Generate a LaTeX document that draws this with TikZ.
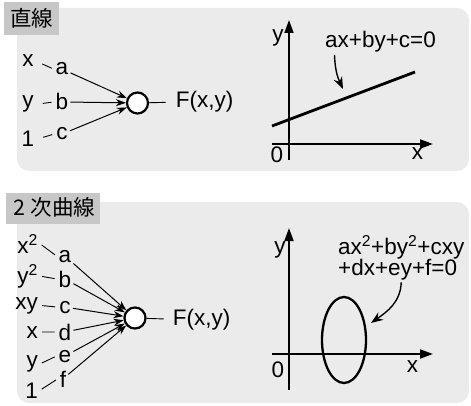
\documentclass[tikz,border=0pt]{standalone}
\usepackage{fontspec}
\setmainfont{Liberation Sans}
\newfontfamily\cjk{Noto Sans CJK JP}
\usetikzlibrary{arrows.meta}
\tikzset{
  panel/.style={fill=black!8,rounded corners=12pt},
  tab/.style={fill=black!22},
  unit/.style={circle,draw,line width=2.2pt,fill=white,minimum size=21pt,inner sep=0pt},
  tick/.style={line width=0.9pt},
  inarrow/.style={line width=1pt,-{Stealth[length=10pt,width=7pt]}},
  axis/.style={line width=1.8pt,-{Triangle[length=13pt,width=9pt]}},
  callout/.style={line width=1.4pt,-{Stealth[length=12pt,width=9pt]}},
}
\begin{document}
\begin{tikzpicture}[x=1pt,y=-1pt,inner sep=2pt,font=\fontsize{22.5}{21}\selectfont]
  \useasboundingbox (0,0) rectangle (471,406);
  % straight line
  \fill[panel] (17,8) rectangle (469,171);
  \fill[tab] (4,2) rectangle (59,35);
  \node[font=\cjk\fontsize{21.5}{22}\selectfont] (title1) at (31.5,18.5) {直線};
  \node[anchor=base] (in1x) at (28,67) {x};
  \node[anchor=base] (in1y) at (28,108) {y};
  \node[anchor=base] (in1o) at (28,147) {1};
  \node[anchor=base] (w1a) at (62,75) {a};
  \node[anchor=base] (w1b) at (62,110) {b};
  \node[anchor=base] (w1c) at (62,140) {c};
  \node[unit] (n1) at (137.5,103) {};
  \node[anchor=base] (f1) at (204.5,108) {F(x,y)};
  \foreach \i/\w in {x/a,y/b,o/c}{
    \draw[tick,shorten <=7pt,shorten >=2pt] (in1\i.east) -- (w1\w.west);
    \draw[inarrow] (w1\w) -- (n1);
  }
  \draw[line width=0.9pt,shorten >=8pt] (n1) -- (f1.west);
  \draw[axis] (289,160) -- (289,20);
  \draw[axis] (272,144) -- (433,144);
  \node (ax1y) at (278,38) {y};
  \node (ax1o) at (277,154.5) {0};
  \node (ax1x) at (417.5,153.5) {x};
  \draw[line width=2.8pt] (272,126) -- (415,72);
  \node[anchor=base] (eq1) at (380.5,48) {ax+by+c=0};
  \coordinate (p1) at (343,89);
  \draw[callout] ([xshift=-46pt]eq1.south) to[out=-88,in=115] (p1);
  % quadratic curve
  \fill[panel] (17,202) rectangle (469,403);
  \fill[tab] (6,193) rectangle (100,224);
  \node[font=\cjk\fontsize{21.5}{22}\selectfont] (title2) at (54.5,207.5) {2 次曲線};
  \node[anchor=base east] (in2a) at (40,253) {x\textsuperscript{2}};
  \node[anchor=base east] (in2b) at (40,283) {y\textsuperscript{2}};
  \node[anchor=base east] (in2c) at (40,309) {xy};
  \node[anchor=base east] (in2d) at (40,338) {x};
  \node[anchor=base east] (in2e) at (40,367.5) {y};
  \node[anchor=base east] (in2f) at (40,398) {1};
  \node[anchor=base] (w2a) at (65,262) {a};
  \node[anchor=base] (w2b) at (65,287) {b};
  \node[anchor=base] (w2c) at (65,313) {c};
  \node[anchor=base] (w2d) at (65,340) {d};
  \node[anchor=base] (w2e) at (65,362) {e};
  \node[anchor=base] (w2f) at (63,387) {f};
  \node[unit] (n2) at (135,318) {};
  \node[anchor=base] (f2) at (201.5,325) {F(x,y)};
  \foreach \w in {a,b,c,d,e,f}{
    \draw[tick,shorten <=2pt,shorten >=2pt] (in2\w.east) -- (w2\w.west);
    \draw[inarrow] (w2\w) -- (n2);
  }
  \draw[line width=0.9pt,shorten >=7pt] (n2) -- (f2.west);
  \draw[axis] (289,390) -- (289,228);
  \draw[axis] (272,354) -- (433,354);
  \node (ax2y) at (280,250) {y};
  \node (ax2o) at (278,370) {0};
  \node (ax2x) at (412.5,367) {x};
  \draw[line width=2.3pt] (344,340) ellipse [x radius=22, y radius=43];
  \node[anchor=west,align=left] (eq2) at (336,258) {ax\textsuperscript{2}+by\textsuperscript{2}+cxy\\+dx+ey+f=0};
  \coordinate (p2) at (371,323);
  \draw[callout] (eq2.south) to[out=-92,in=35] (p2);
\end{tikzpicture}
\end{document}
